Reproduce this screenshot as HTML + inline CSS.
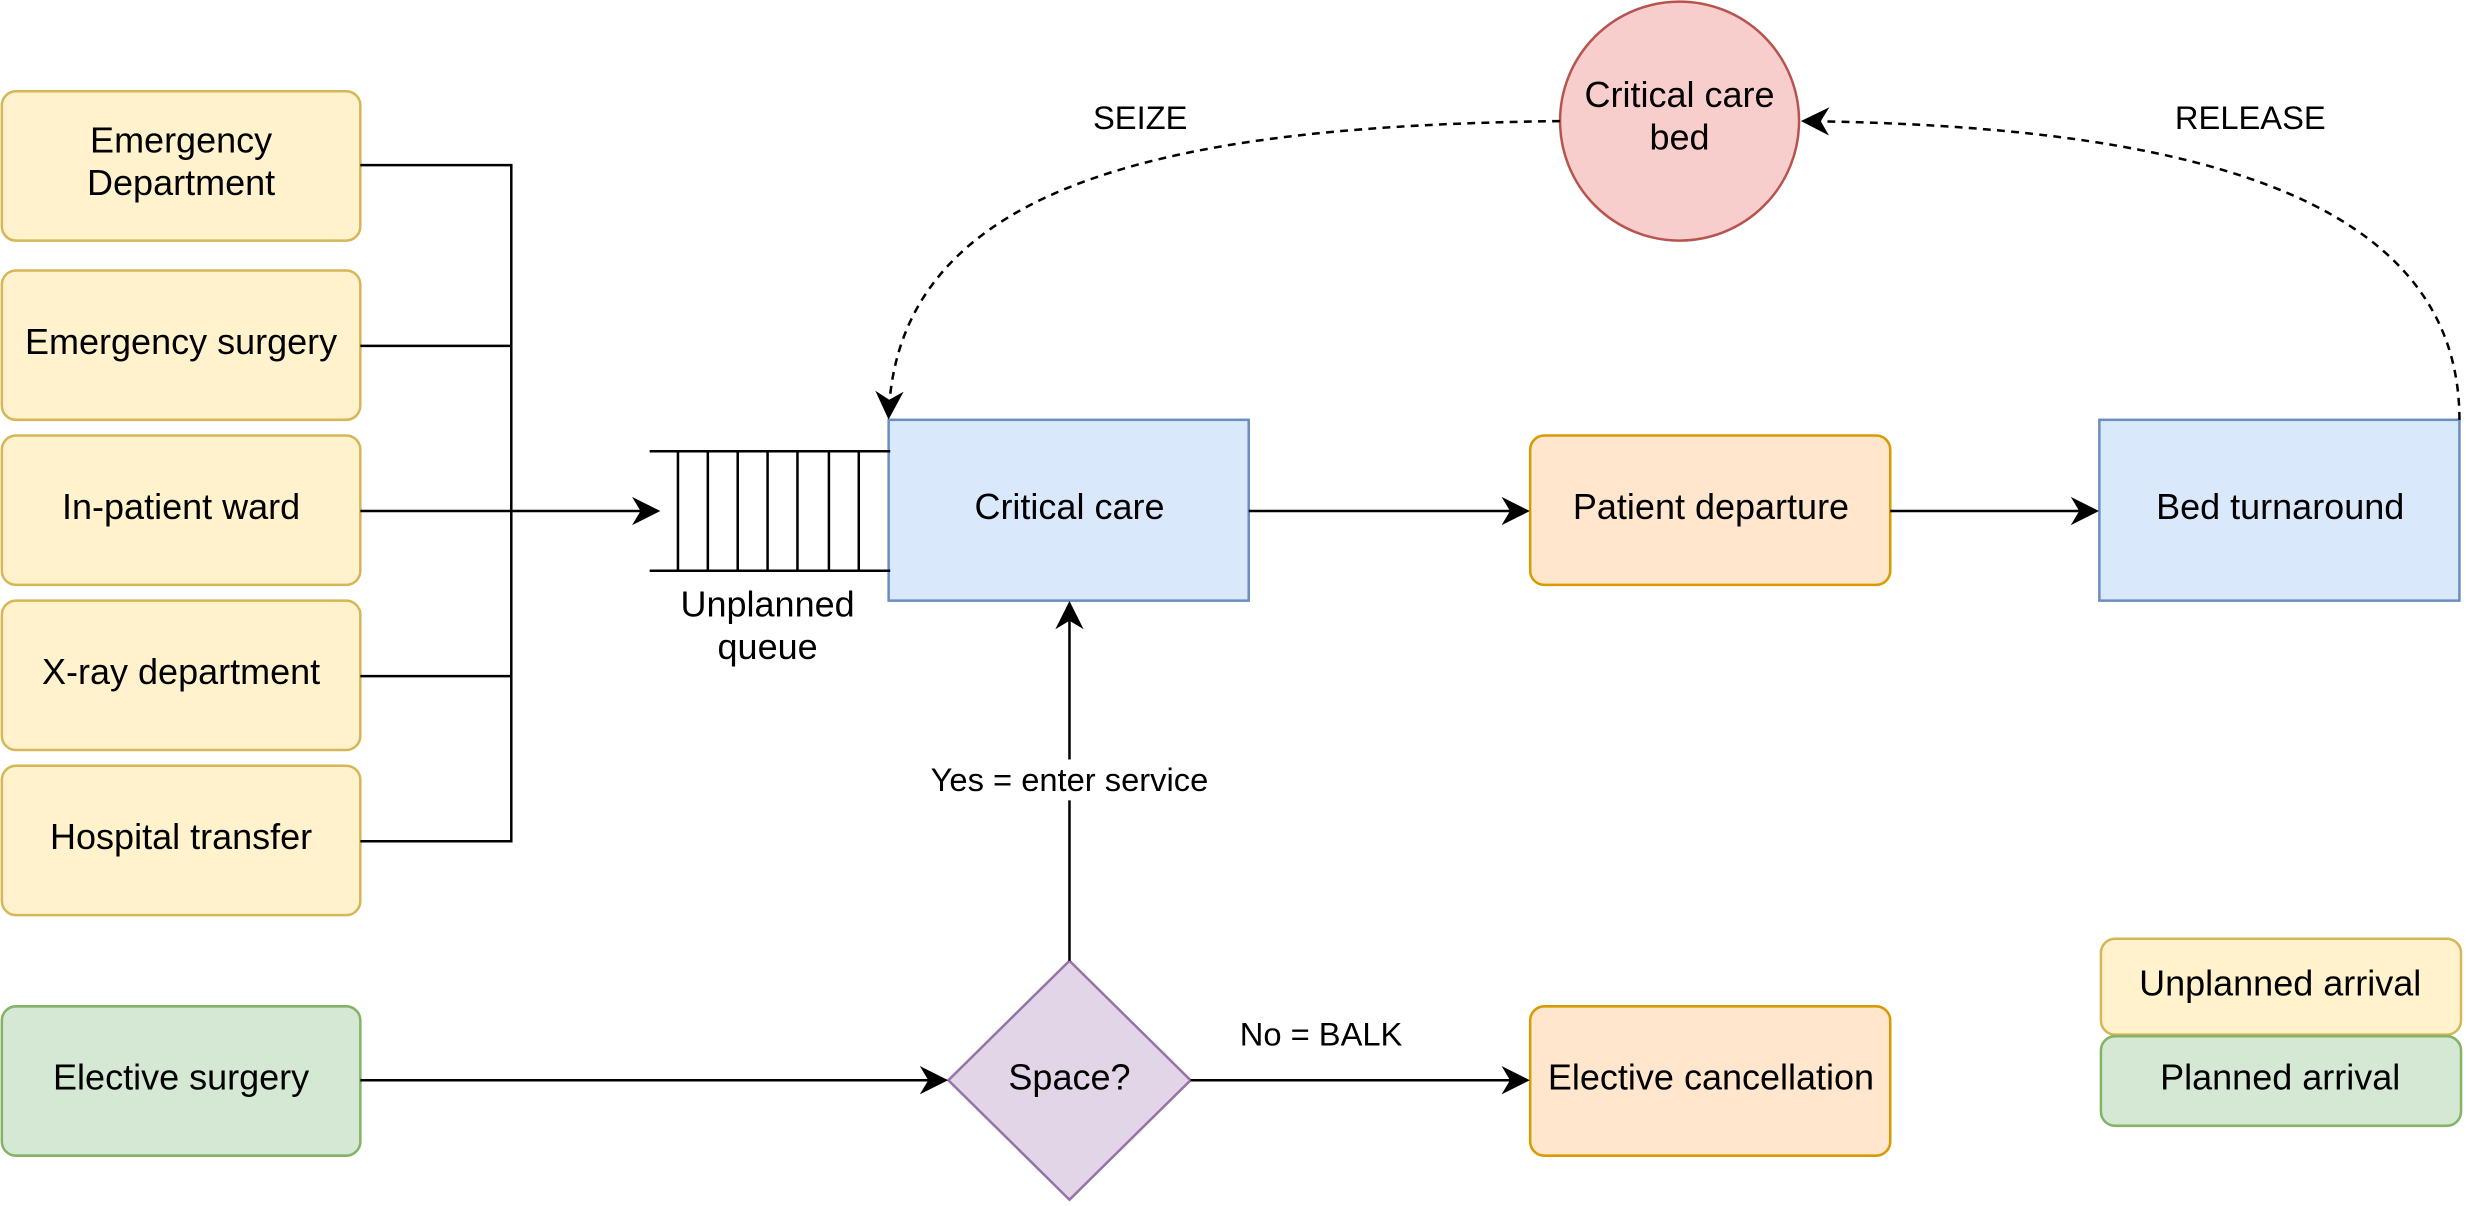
<!DOCTYPE html>
<html><head><meta charset="utf-8"><style>html,body{margin:0;padding:0;background:#fff}svg{display:block}text{font-family:"Liberation Sans",Helvetica,sans-serif;font-size:22.9px;fill:#000}</style></head>
<body>
<svg width="2466" height="1206" viewBox="0 0 1568 767" xmlns="http://www.w3.org/2000/svg">
<defs>
<marker id="b" viewBox="0 0 10 10" refX="9" refY="5" markerWidth="18" markerHeight="18" orient="auto" markerUnits="userSpaceOnUse"><path d="M0,0 L10,5 L0,10 L3,5 Z" fill="#000"/></marker>
</defs>
<g stroke-width="1.6">
<rect x="1" y="58" width="228" height="95" rx="9" fill="#fff2cc" stroke="#d6b656"/>
<rect x="1" y="172" width="228" height="95" rx="9" fill="#fff2cc" stroke="#d6b656"/>
<rect x="1" y="277" width="228" height="95" rx="9" fill="#fff2cc" stroke="#d6b656"/>
<rect x="1" y="382" width="228" height="95" rx="9" fill="#fff2cc" stroke="#d6b656"/>
<rect x="1" y="487" width="228" height="95" rx="9" fill="#fff2cc" stroke="#d6b656"/>
<rect x="1" y="640" width="228" height="95" rx="9" fill="#d5e8d4" stroke="#82b366"/>
<rect x="565" y="267" width="229" height="115" fill="#dae8fc" stroke="#6c8ebf"/>
<rect x="1335" y="267" width="229" height="115" fill="#dae8fc" stroke="#6c8ebf"/>
<rect x="973" y="277" width="229" height="95" rx="9" fill="#ffe6cc" stroke="#d79b00"/>
<rect x="973" y="640" width="229" height="95" rx="9" fill="#ffe6cc" stroke="#d79b00"/>
<rect x="1336" y="597" width="229" height="61" rx="9" fill="#fff2cc" stroke="#d6b656"/>
<rect x="1336" y="659" width="229" height="57" rx="9" fill="#d5e8d4" stroke="#82b366"/>
<circle cx="1068" cy="77" r="76" fill="#f8cecc" stroke="#b85450"/>
<path d="M680,611 L757,687 L680,763 L603,687 Z" fill="#e1d5e7" stroke="#9673a6"/>
</g>
<g stroke="#000" stroke-width="1.6" fill="none">
<path d="M229,105 H325 V535 H229 M229,220 H325 M229,430 H325"/>
<path d="M229,325 H418" marker-end="url(#b)"/>
<path d="M413,287 H566 M413,363 H566 M431,287 V363 M450,287 V363 M469,287 V363 M488,287 V363 M507,287 V363 M527,287 V363 M546,287 V363"/>
<path d="M794,325 H971" marker-end="url(#b)"/>
<path d="M1202,325 H1333" marker-end="url(#b)"/>
<path d="M229,687 H601" marker-end="url(#b)"/>
<path d="M757,687 H971" marker-end="url(#b)"/>
<path d="M680,611 V384" marker-end="url(#b)"/>
<path d="M992,77 C760,80 570,110 565,265" stroke-dasharray="5,4" marker-end="url(#b)"/>
<path d="M1564,267 C1564,120 1380,80 1147,77" stroke-dasharray="5,4" marker-end="url(#b)"/>
</g>
<rect x="584" y="483" width="192" height="26" fill="#fff"/>
<g text-anchor="middle">
<text x="115" y="97">Emergency</text><text x="115" y="124">Department</text>
<text x="115" y="225">Emergency surgery</text>
<text x="115" y="330">In-patient ward</text>
<text x="115" y="435">X-ray department</text>
<text x="115" y="540">Hospital transfer</text>
<text x="115" y="693">Elective surgery</text>
<text x="488" y="392">Unplanned</text><text x="488" y="419">queue</text>
<text x="680" y="330">Critical care</text>
<text x="1088" y="330">Patient departure</text>
<text x="1450" y="330">Bed turnaround</text>
<text x="1068" y="68">Critical care</text><text x="1068" y="95">bed</text>
<text x="680" y="693">Space?</text>
<text x="1088" y="693">Elective cancellation</text>
<text x="1450" y="633">Unplanned arrival</text>
<text x="1450" y="693">Planned arrival</text>
<text x="680" y="503" style="font-size:20.8px">Yes = enter service</text>
<text x="840" y="665" style="font-size:20.8px">No = BALK</text>
<text x="725" y="82" style="font-size:20.8px">SEIZE</text>
<text x="1431" y="82" style="font-size:20.8px">RELEASE</text>
</g>
</svg>
</body></html>
